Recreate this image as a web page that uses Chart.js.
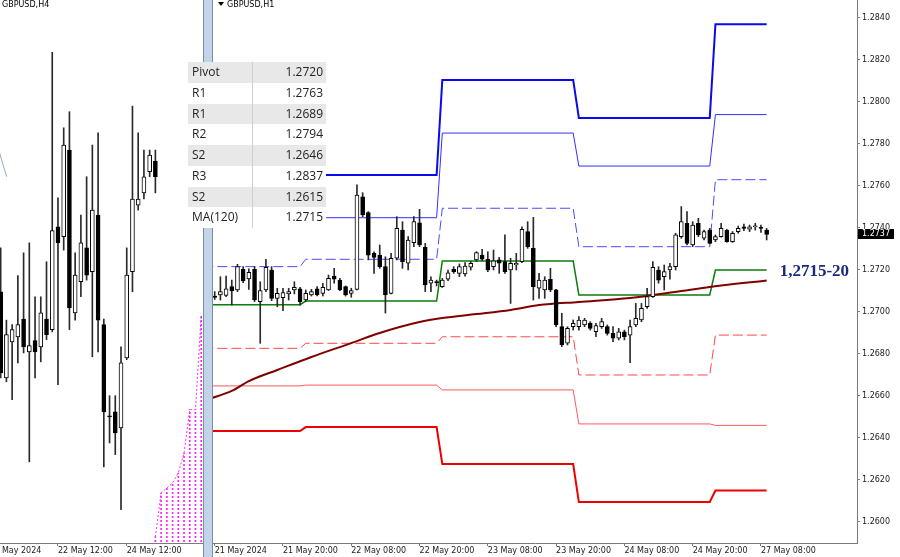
<!DOCTYPE html>
<html>
<head>
<meta charset="utf-8">
<script src="https://cdn.jsdelivr.net/npm/chart.js@4.4.1/dist/chart.umd.min.js"></script>
<style>
  body { margin: 0; width: 900px; height: 557px; position: relative; overflow: hidden; background: #fff; }
  canvas { position: absolute; top: 0; }
  #grafH4 { left: 0; }
  #grafH1 { left: 213px; }
  #divisor { position: absolute; left: 203px; top: 0; width: 8px; height: 557px; background: #c2d4ea; border-left: 1px solid #7d8ea3; border-right: 1px solid #7d8ea3; }
  .titulo { position: absolute; top: 0; font: 8px "DejaVu Sans"; color: #000; line-height: 10px; }
  #seta { position: absolute; left: 218px; top: 2px; width: 0; height: 0; border-left: 3px solid transparent; border-right: 3px solid transparent; border-top: 4px solid #000; }
  #tabela { position: absolute; left: 188px; top: 62px; width: 138px; font: 12px "Open Sans"; color: #222; z-index: 5; }
  #tabela .linha { display: flex; height: 20.75px; line-height: 20.75px; background: #fff; }
  #tabela .linha.cinza { background: #e8e8e8; }
  #tabela .nome { width: 60px; padding-left: 4px; border-right: 1px solid #cfcfcf; }
  #tabela .valor { width: 70px; text-align: right; padding-right: 3px; }
</style>
</head>
<body>
<canvas id="grafH4" width="203" height="557"></canvas>
<div id="divisor"></div>
<canvas id="grafH1" width="687" height="557"></canvas>
<div class="titulo" style="left:2px">GBPUSD,H4</div>
<div id="seta"></div>
<div class="titulo" style="left:227px">GBPUSD,H1</div>
<div id="tabela"></div>

<script>
// ---------- H1 (painel direito) ----------
var abertura = [1.27076,1.27081,1.27079,1.27121,1.27105,1.27203,1.27157,1.27203,1.27049,1.27105,1.2720,1.27065,1.27068,1.27086,1.27105,1.2711,
	1.27057,1.27081,1.2711,1.27089,1.27105,1.27171,1.27152,1.27121,1.27089,1.27108,1.27549,1.27473,1.27279,1.27271,1.27216,1.27089,
	1.27256,1.2739,1.27232,1.2733,1.27425,1.27308,1.27137,1.27144,1.27121,1.27156,1.27203,1.27184,1.27181,1.27213,1.27248,1.27271,
	1.27251,1.27216,1.27248,1.2724,1.2720,1.27224,1.2724,1.27383,1.27303,1.27113,1.27105,1.27156,1.27105,1.2693,1.26851,1.2693,
	1.2693,1.26938,1.26946,1.26906,1.2693,1.2693,1.26898,1.26875,1.26906,1.2689,1.26938,1.26962,1.27025,1.27073,1.2720,1.27168,
	1.2720,1.27216,1.27359,1.27422,1.27319,1.27422,1.27351,1.2739,1.27343,1.27359,1.2739,1.27335,1.27383,1.27406,1.27394,1.27406,
	1.27403,1.2739];
var maxima = [1.27097,1.27168,1.27171,1.27152,1.27227,1.27216,1.27205,1.27216,1.27144,1.27251,1.27216,1.27113,1.27113,1.27113,1.27144,1.27117,
	1.27105,1.27108,1.27121,1.27137,1.27176,1.27208,1.2716,1.27124,1.27113,1.27605,1.27568,1.27478,1.27287,1.27319,1.27263,1.27279,
	1.27454,1.2743,1.27359,1.27454,1.27489,1.27327,1.27168,1.27152,1.2716,1.2720,1.27216,1.27229,1.27235,1.2724,1.27287,1.27298,
	1.27287,1.27295,1.2726,1.27367,1.27256,1.27279,1.27406,1.2743,1.27451,1.27184,1.27168,1.27208,1.27108,1.26994,1.2693,1.26962,
	1.26978,1.2697,1.26954,1.26946,1.2697,1.26938,1.2693,1.26922,1.26914,1.26962,1.27041,1.27041,1.27113,1.2724,1.27216,1.27224,
	1.27232,1.27375,1.27502,1.27478,1.2743,1.27446,1.2739,1.27398,1.27367,1.27422,1.27394,1.27383,1.27409,1.27419,1.27414,1.27422,
	1.27414,1.27398];
var minima = [1.2706,1.27057,1.27073,1.27033,1.27097,1.2714,1.27108,1.27049,1.26851,1.27097,1.27054,1.27025,1.27006,1.27057,1.27086,1.27033,
	1.27049,1.27076,1.27076,1.27076,1.27102,1.27137,1.27102,1.27076,1.2707,1.27105,1.27454,1.27248,1.27184,1.27208,1.26995,1.27086,
	1.27248,1.27208,1.2720,1.27311,1.27311,1.27097,1.27097,1.27124,1.27117,1.27149,1.27184,1.27168,1.27171,1.2720,1.2724,1.27244,
	1.27192,1.2720,1.27184,1.27184,1.27041,1.2720,1.27235,1.27303,1.27057,1.27065,1.27065,1.27097,1.2693,1.26835,1.26843,1.26914,
	1.26914,1.2693,1.26914,1.26883,1.26922,1.2689,1.26859,1.26867,1.26867,1.26759,1.2693,1.26954,1.27017,1.2707,1.27137,1.27105,
	1.27156,1.2720,1.27351,1.27319,1.27311,1.27359,1.27343,1.27324,1.27335,1.27356,1.27332,1.27332,1.27375,1.27387,1.27383,1.2739,
	1.27379,1.27343];
var fechamento = [1.2707,1.27097,1.2711,1.27102,1.27216,1.27148,1.27189,1.27057,1.27102,1.27213,1.27065,1.27089,1.27092,1.27097,1.27117,1.27049,
	1.27089,1.27097,1.27081,1.27117,1.2716,1.27156,1.27105,1.27081,1.27102,1.27557,1.27462,1.27271,1.2726,1.27216,1.27081,1.27256,
	1.27398,1.2724,1.27343,1.2743,1.27319,1.27129,1.27152,1.2714,1.27152,1.27187,1.27192,1.27216,1.27219,1.27232,1.27283,1.27251,
	1.2720,1.27244,1.27232,1.27192,1.27232,1.27232,1.27394,1.27311,1.27121,1.27152,1.27152,1.27105,1.26938,1.26843,1.26922,1.26946,
	1.26962,1.26962,1.26922,1.26935,1.26954,1.26898,1.26875,1.26906,1.26883,1.2693,1.2697,1.27017,1.27073,1.27213,1.27152,1.27192,
	1.27216,1.27367,1.2743,1.27327,1.27414,1.27367,1.27383,1.27327,1.27359,1.27398,1.27335,1.27375,1.27398,1.27398,1.27406,1.27409,
	1.27398,1.2737];

// níveis diários de pivô (21, 22, 23, 24 e 27 de maio)
var inicioDia = [-2, 16, 40, 64, 88];
var fimDia = [15, 39, 63, 87, 97];
var nivelR3 = [1.2764, 1.27652, 1.28105, 1.27924, 1.2837];
var nivelR2 = [1.27429, 1.27449, 1.27852, 1.27695, 1.2794];
var nivelR1 = [1.27216, 1.27251, 1.27494, 1.27311, 1.2763];
var nivelPivot = [1.27035, 1.27052, 1.27243, 1.27081, 1.2720];
var nivelS1 = [1.26827, 1.26851, 1.26882, 1.2670, 1.2689];
var nivelS2 = [1.26648, 1.26652, 1.26629, 1.26467, 1.2646];
var nivelS3 = [1.26433, 1.26452, 1.26276, 1.26095, 1.2615];

// MA(120) lida em alguns pontos
var mediaIdx = [-1, 3, 6, 11, 17, 24, 29, 36, 40, 46, 52, 57, 64, 73, 82, 87, 97];
var mediaValor = [1.26586, 1.26624, 1.26671, 1.26724, 1.26786, 1.26852, 1.269, 1.26952, 1.26971, 1.2699, 1.2701, 1.27033, 1.27048, 1.27067, 1.271, 1.27119, 1.2715];

var ticksX = [0, 12, 24, 36, 48, 60, 72, 84, 96];
var rotulosX = ["21 May 2024", "21 May 20:00", "22 May 08:00", "22 May 20:00", "23 May 08:00", "23 May 20:00", "24 May 08:00", "24 May 20:00", "27 May 08:00"];
var ticksY = [1.2600, 1.2620, 1.2640, 1.2660, 1.2680, 1.2700, 1.2720, 1.2740, 1.2760, 1.2780, 1.2800, 1.2820, 1.2840];
var rotuloNivel = "1,2715-20";

// tabela de níveis
var tabelaNomes = ["Pivot", "R1", "R1", "R2", "S2", "R3", "S2", "MA(120)"];
var tabelaValores = ["1.2720", "1.2763", "1.2689", "1.2794", "1.2646", "1.2837", "1.2615", "1.2715"];

// ---------- H4 (painel esquerdo) ----------
var aberturaH4 = [1.27169,1.27014,1.27079,1.27088,1.2712,1.27061,1.27081,1.2707,1.2712,1.27101,1.27286,1.27268,1.27424,1.27131,
	1.27187,1.27248,1.27205,1.27307,1.2711,1.26946,1.26953,1.26924,1.2705,1.27205,1.27325,1.27347,1.27385,1.27404];
var maximaH4 = [1.27248,1.27118,1.2711,1.27198,1.27239,1.27257,1.2716,1.2716,1.27223,1.276,1.27338,1.27464,1.27493,1.27239,
	1.27307,1.27376,1.27433,1.27455,1.2712,1.26982,1.26982,1.2707,1.27248,1.27503,1.27455,1.27424,1.27424,1.27424];
var minimaH4 = [1.27014,1.27007,1.26975,1.27041,1.27059,1.26863,1.27014,1.27043,1.27083,1.27097,1.27002,1.27244,1.27101,1.27118,
	1.2716,1.2719,1.27052,1.27061,1.26854,1.26897,1.26876,1.26777,1.27047,1.27169,1.27316,1.27336,1.27376,1.27347];
var fechamentoH4 = [1.27023,1.27092,1.27101,1.2711,1.2707,1.27072,1.27061,1.27131,1.27092,1.27279,1.27257,1.27433,1.2714,1.27199,
	1.27257,1.27199,1.27316,1.27118,1.26953,1.26944,1.26915,1.27041,1.27199,1.27336,1.27336,1.27376,1.27415,1.27376];
var nuvemIdx = [27, 28, 29, 30, 31, 32, 33, 34, 35];
var nuvemTopo = [1.26728, 1.26807, 1.26816, 1.26825, 1.26843, 1.26879, 1.26957, 1.26957, 1.27127];
var nuvemBase = 1.2660;
var linhaAzulIdx = [-0.2, 1.05];
var linhaAzulValor = [1.27419, 1.27376];
var ticksXH4 = [-2, 10, 22];
var rotulosXH4 = ["20 May 2024", "22 May 12:00", "24 May 12:00"];

Chart.defaults.animation = false;
Chart.defaults.font.family = "DejaVu Sans";
Chart.defaults.color = "#1a1a1a";
Chart.defaults.plugins.legend.display = false;
Chart.defaults.plugins.tooltip.enabled = false;

// monta tabela
var htmlTabela = "";
for (var i = 0; i < tabelaNomes.length; i++) {
	htmlTabela += `<div class="linha ${i % 2 == 0 ? "cinza" : ""}"><div class="nome">${tabelaNomes[i]}</div><div class="valor">${tabelaValores[i]}</div></div>`;
}
document.getElementById("tabela").innerHTML = htmlTabela;

function velas(ab, mx, mn, fc) {
	var pavio = [];
	var corpo = [];
	var cores = [];
	for (var i = 0; i < ab.length; i++) {
		pavio.push({ x: i, y: [mn[i], mx[i]] });
		corpo.push({ x: i, y: [ab[i], fc[i]] });
		cores.push(fc[i] >= ab[i] ? "#ffffff" : "#000000");
	}
	return [
		{ type: "bar", data: corpo, barThickness: 4, backgroundColor: cores, borderColor: "#000", borderWidth: 1, borderSkipped: false, grouped: false, minBarLength: 1, order: 0 },
		{ type: "bar", data: pavio, barThickness: 1, backgroundColor: "#2a2a2a", borderWidth: 0, grouped: false, order: 1 },
	];
}

function nivel(valores, cor, largura, tracejado) {
	var pts = [];
	for (var d = 0; d < valores.length; d++) {
		pts.push({ x: inicioDia[d], y: valores[d] });
		pts.push({ x: fimDia[d], y: valores[d] });
	}
	return { type: "line", data: pts, borderColor: cor, borderWidth: largura, borderDash: tracejado || [], pointRadius: 0, tension: 0, order: 3 };
}

function eixoX(ticks, rotulos, minimo, maximo) {
	return {
		type: "linear", min: minimo, max: maximo, offset: false,
		border: { display: true, color: "#7a7a7a" },
		grid: { display: true, offset: false, drawOnChartArea: false, drawTicks: true, tickLength: 3, color: "#7a7a7a" },
		ticks: { align: "start", padding: 0, autoSkip: false, maxRotation: 0, font: { size: 8 }, callback: (v, idx) => rotulos[idx] },
		afterBuildTicks: (s) => { s.ticks = ticks.map((v) => ({ value: v })); },
		afterFit: (s) => { s.height = 14; s.paddingLeft = 0; s.paddingRight = 0; },
	};
}

// ---------- gráfico H1 ----------
var extrasH1 = {
	id: "extrasH1",
	afterDraw(chart) {
		const { ctx, chartArea, scales } = chart;
		const ultimo = fechamento[fechamento.length - 1];
		const yp = scales.y.getPixelForValue(ultimo);
		ctx.save();
		ctx.fillStyle = "#000";
		ctx.fillRect(chartArea.right + 1, Math.round(yp) - 5, 36, 10);
		ctx.fillStyle = "#fff";
		ctx.font = '8px "DejaVu Sans"';
		ctx.textBaseline = "middle";
		ctx.fillText(ultimo.toFixed(4), chartArea.right + 5, Math.round(yp));
		ctx.fillStyle = "#1b2a7c";
		ctx.font = 'bold 17px "Liberation Serif"';
		ctx.fillText(rotuloNivel, scales.x.getPixelForValue(fechamento.length - 1) + 13, scales.y.getPixelForValue(nivelPivot[4]) + 2);
		ctx.restore();
	},
};

var dadosMedia = mediaIdx.map((v, i) => ({ x: v, y: mediaValor[i] }));

new Chart(document.getElementById("grafH1"), {
	type: "bar",
	data: {
		datasets: velas(abertura, maxima, minima, fechamento).concat([
			{ type: "line", data: dadosMedia, borderColor: "#800000", borderWidth: 2, pointRadius: 0, cubicInterpolationMode: "monotone", order: 2 },
			nivel(nivelR3, "#0a0aee", 2),
			nivel(nivelR2, "#3030ff", 1),
			nivel(nivelR1, "#4a4aff", 1, [10, 4]),
			nivel(nivelPivot, "#0a7d0a", 1.5),
			nivel(nivelS1, "#ff4848", 1, [10, 4]),
			nivel(nivelS2, "#ff5a5a", 1),
			nivel(nivelS3, "#ee0000", 2),
		]),
	},
	options: {
		responsive: false,
		maintainAspectRatio: false,
		layout: { padding: 0 },
		scales: {
			x: eixoX(ticksX, rotulosX, -0.3, 112.88),
			y: {
				position: "right", min: 1.259, max: 1.284857,
				border: { display: true, color: "#7a7a7a" },
				grid: { display: true, drawOnChartArea: false, drawTicks: true, tickLength: 3, color: "#7a7a7a" },
				ticks: { padding: 2, autoSkip: false, font: { size: 8 }, callback: (v) => v.toFixed(4) },
				afterBuildTicks: (s) => { s.ticks = ticksY.map((v) => ({ value: v })); },
				afterFit: (s) => { s.width = 43; s.paddingTop = 0; s.paddingBottom = 0; },
			},
		},
	},
	plugins: [extrasH1],
});

// ---------- gráfico H4 ----------
var pc = document.createElement("canvas");
pc.width = 1;
pc.height = 4;
var pctx = pc.getContext("2d");
pctx.fillStyle = "#ff20ff";
pctx.fillRect(0, 0, 1, 2);
var padraoNuvem = pctx.createPattern(pc, "repeat");

var barrasNuvem = nuvemIdx.map((v, i) => ({ x: v, y: [nuvemBase, nuvemTopo[i]] }));
var linhaNuvem = nuvemIdx.map((v, i) => ({ x: v, y: nuvemTopo[i] }));
var linhaAzul = linhaAzulIdx.map((v, i) => ({ x: v, y: linhaAzulValor[i] }));

new Chart(document.getElementById("grafH4"), {
	type: "bar",
	data: {
		datasets: velas(aberturaH4, maximaH4, minimaH4, fechamentoH4).concat([
			{ type: "bar", data: barrasNuvem, barThickness: 1, backgroundColor: padraoNuvem, borderWidth: 0, grouped: false, order: 4 },
			{ type: "line", data: linhaNuvem, borderColor: "#ff30ff", borderWidth: 1, borderDash: [2, 2], pointRadius: 0, order: 4 },
			{ type: "line", data: linhaAzul, borderColor: "#8fa8cc", borderWidth: 1, pointRadius: 0, order: 4 },
		]),
	},
	options: {
		responsive: false,
		maintainAspectRatio: false,
		layout: { padding: 0 },
		scales: {
			x: eixoX(ticksXH4, rotulosXH4, -0.117, 35.31),
			y: { display: false, min: 1.26717, max: 1.27694 },
		},
	},
});
</script>
</body>
</html>
